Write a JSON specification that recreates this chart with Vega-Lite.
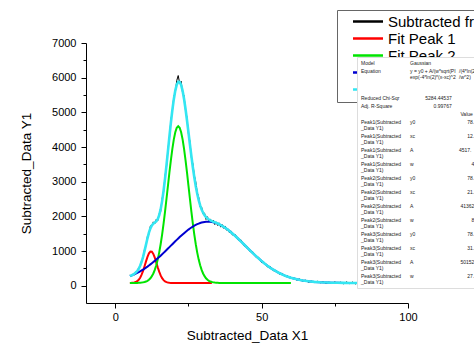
{
  "$schema": "https://vega.github.io/schema/vega-lite/v6.json",
  "width": 322,
  "height": 260,
  "autosize": {"type": "none"},
  "padding": {"left": 86, "top": 43, "right": 66, "bottom": 60},
  "background": "white",
  "config": {
    "view": {"stroke": null},
    "font": "Liberation Sans",
    "style": {"guide-label": {"lineHeight": 6.4}}
  },
  "data": {"values": [
    {"x":5,"d":311,"p1":79,"p2":78,"p3":275,"c":276},
    {"x":5.5,"d":274,"p1":81,"p2":78,"p3":291,"c":294},
    {"x":6,"d":330,"p1":84,"p2":78,"p3":309,"c":315},
    {"x":6.5,"d":312,"p1":91,"p2":79,"p3":328,"c":342},
    {"x":7,"d":401,"p1":104,"p2":79,"p3":348,"c":376},
    {"x":7.5,"d":407,"p1":128,"p2":80,"p3":369,"c":422},
    {"x":8,"d":525,"p1":168,"p2":82,"p3":391,"c":485},
    {"x":8.5,"d":548,"p1":229,"p2":84,"p3":415,"c":573},
    {"x":9,"d":718,"p1":316,"p2":89,"p3":440,"c":688},
    {"x":9.5,"d":787,"p1":428,"p2":95,"p3":465,"c":832},
    {"x":10,"d":1057,"p1":561,"p2":105,"p3":493,"c":1002},
    {"x":10.5,"d":1155,"p1":701,"p2":119,"p3":521,"c":1185},
    {"x":11,"d":1426,"p1":832,"p2":141,"p3":550,"c":1366},
    {"x":11.5,"d":1488,"p1":931,"p2":171,"p3":581,"c":1528},
    {"x":12,"d":1724,"p1":983,"p2":214,"p3":613,"c":1654},
    {"x":12.5,"d":1720,"p1":977,"p2":273,"p3":646,"c":1740},
    {"x":13,"d":1840,"p1":915,"p2":351,"p3":680,"c":1790},
    {"x":13.5,"d":1786,"p1":807,"p2":455,"p3":715,"c":1821},
    {"x":14,"d":1916,"p1":673,"p2":587,"p3":752,"c":1856},
    {"x":14.5,"d":1868,"p1":533,"p2":752,"p3":789,"c":1918},
    {"x":15,"d":2074,"p1":404,"p2":954,"p3":827,"c":2029},
    {"x":15.5,"d":2141,"p1":296,"p2":1195,"p3":866,"c":2201},
    {"x":16,"d":2509,"p1":215,"p2":1474,"p3":905,"c":2439},
    {"x":16.5,"d":2699,"p1":159,"p2":1790,"p3":946,"c":2739},
    {"x":17,"d":3170,"p1":123,"p2":2137,"p3":987,"c":3090},
    {"x":17.5,"d":3425,"p1":101,"p2":2507,"p3":1028,"c":3480},
    {"x":18,"d":3955,"p1":89,"p2":2887,"p3":1070,"c":3890},
    {"x":18.5,"d":4233,"p1":83,"p2":3265,"p3":1112,"c":4303},
    {"x":19,"d":4792,"p1":80,"p2":3624,"p3":1154,"c":4702},
    {"x":19.5,"d":5017,"p1":79,"p2":3948,"p3":1196,"c":5067},
    {"x":20,"d":5465,"p1":78,"p2":4220,"p3":1238,"c":5380},
    {"x":20.5,"d":5567,"p1":78,"p2":4426,"p3":1279,"c":5627},
    {"x":21,"d":5917,"p1":78,"p2":4554,"p3":1321,"c":5797},
    {"x":21.5,"d":6061,"p1":78,"p2":4598,"p3":1361,"c":5881},
    {"x":22,"d":5837,"p1":78,"p2":4554,"p3":1401,"c":5877},
    {"x":22.5,"d":5898,"p1":78,"p2":4426,"p3":1440,"c":5788},
    {"x":23,"d":5550,"p1":78,"p2":4220,"p3":1478,"c":5620},
    {"x":23.5,"d":5480,"p1":78,"p2":3948,"p3":1515,"c":5385},
    {"x":24,"d":5047,"p1":78,"p2":3624,"p3":1551,"c":5097},
    {"x":24.5,"d":4852,"p1":78,"p2":3265,"p3":1585,"c":4772},
    {"x":25,"d":4366,"p1":78,"p2":2887,"p3":1618,"c":4426},
    {"x":25.5,"d":4167,"p1":78,"p2":2507,"p3":1649,"c":4077},
    {"x":26,"d":3697,"p1":78,"p2":2137,"p3":1678,"c":3737},
    {"x":26.5,"d":3517,"p1":78,"p2":1790,"p3":1705,"c":3417},
    {"x":27,"d":3186,"p1":78,"p2":1474,"p3":1730,"c":3126},
    {"x":27.5,"d":2989,"p1":78,"p2":1195,"p3":1753,"c":2869},
    {"x":28,"d":2689,"p1":78,"p2":954,"p3":1773,"c":2649},
    {"x":28.5,"d":2555,"p1":78,"p2":752,"p3":1791,"c":2465},
    {"x":29,"d":2266,"p1":78,"p2":587,"p3":1807,"c":2316},
    {"x":29.5,"d":2266,"p1":78,"p2":455,"p3":1820,"c":2196},
    {"x":30,"d":2064,"p1":78,"p2":351,"p3":1830,"c":2104},
    {"x":30.5,"d":2093,"p1":78,"p2":273,"p3":1838,"c":2033},
    {"x":31,"d":1909,"p1":78,"p2":214,"p3":1843,"c":1979},
    {"x":31.5,"d":1989,"p1":78,"p2":171,"p3":1846,"c":1939},
    {"x":32,"d":1848,"p1":78,"p2":141,"p3":1846,"c":1908},
    {"x":32.5,"d":1924,"p1":78,"p2":119,"p3":1843,"c":1884},
    {"x":33,"d":1813,"p1":78,"p2":105,"p3":1837,"c":1863},
    {"x":33.5,"d":1890,"p2":95,"p3":1828,"c":1845},
    {"x":34,"d":1763,"p2":89,"p3":1817,"c":1828},
    {"x":34.5,"d":1840,"p2":84,"p3":1804,"c":1810},
    {"x":35,"d":1737,"p2":82,"p3":1788,"c":1792},
    {"x":35.5,"d":1811,"p2":80,"p3":1769,"c":1771},
    {"x":36,"d":1689,"p2":79,"p3":1748,"c":1749},
    {"x":36.5,"d":1761,"p2":79,"p3":1725,"c":1726},
    {"x":37,"d":1655,"p2":78,"p3":1699,"c":1700},
    {"x":37.5,"d":1722,"p2":78,"p3":1672,"c":1672},
    {"x":38,"d":1603,"p2":78,"p3":1643,"c":1643},
    {"x":38.5,"d":1641,"p2":78,"p3":1611,"c":1611},
    {"x":39,"d":1528,"p2":78,"p3":1578,"c":1578},
    {"x":39.5,"d":1579,"p2":78,"p3":1544,"c":1544},
    {"x":40,"d":1463,"p2":78,"p3":1508,"c":1508},
    {"x":41,"d":1473,"p2":78,"p3":1433,"c":1433},
    {"x":42,"d":1318,"p2":78,"p3":1353,"c":1353},
    {"x":43,"d":1316,"p2":78,"p3":1271,"c":1271},
    {"x":44,"d":1147,"p2":78,"p3":1187,"c":1187},
    {"x":45,"d":1133,"p2":78,"p3":1103,"c":1103},
    {"x":46,"d":985,"p2":78,"p3":1020,"c":1020},
    {"x":47,"d":978,"p2":78,"p3":938,"c":938},
    {"x":48,"d":828,"p2":78,"p3":858,"c":858},
    {"x":49,"d":816,"p2":78,"p3":781,"c":781},
    {"x":50,"d":668,"p2":78,"p3":708,"c":708},
    {"x":51,"d":669,"p2":78,"p3":639,"c":639},
    {"x":52,"d":540,"p2":78,"p3":575,"c":575},
    {"x":53,"d":550,"p2":78,"p3":515,"c":515},
    {"x":54,"d":430,"p2":78,"p3":460,"c":460},
    {"x":55,"d":435,"p2":78,"p3":410,"c":410},
    {"x":56,"d":335,"p2":78,"p3":365,"c":365},
    {"x":57,"d":354,"p2":78,"p3":324,"c":324},
    {"x":58,"d":263,"p2":78,"p3":288,"c":288},
    {"x":59,"d":276,"p2":78,"p3":256,"c":256},
    {"x":60,"d":203,"p2":78,"p3":228,"c":228},
    {"x":61,"d":223},
    {"x":62,"d":163,"p3":183,"c":183},
    {"x":63,"d":190},
    {"x":64,"d":134,"p3":149,"c":149},
    {"x":65,"d":156},
    {"x":66,"d":100,"p3":125,"c":125},
    {"x":67,"d":131},
    {"x":68,"d":89,"p3":109,"c":109},
    {"x":69,"d":128},
    {"x":70,"d":82,"p3":97,"c":97},
    {"x":71,"d":113},
    {"x":72,"d":65,"p3":90,"c":90},
    {"x":73,"d":102},
    {"x":74,"d":65,"p3":85,"c":85},
    {"x":75,"d":108},
    {"x":76,"d":67,"p3":82,"c":82},
    {"x":77,"d":101},
    {"x":78,"d":55,"p3":80,"c":80},
    {"x":79,"d":110},
    {"x":80,"d":59,"p3":79,"c":79},
    {"x":81,"d":104},
    {"x":82,"d":49,"p3":79,"c":79},
    {"x":83,"d":99},
    {"x":84,"d":53,"p3":78,"c":78},
    {"x":85,"d":108},
    {"x":86,"d":58,"p3":78,"c":78},
    {"x":87,"d":103},
    {"x":88,"d":48,"p3":78,"c":78},
    {"x":89,"d":98},
    {"x":90,"d":68,"p3":78,"c":78}
  ]},
  "layer": [
    {
      "mark": {"type": "line", "strokeWidth": 1, "invalid": "filter"},
      "encoding": {
        "x": {"field": "x", "type": "quantitative",
          "scale": {"domain": [-10, 100], "nice": false, "zero": false},
          "axis": {
            "title": "Subtracted_Data X1",
            "values": [0, 25, 50, 75, 100],
            "tickCount": 20,
            "labelExpr": "datum.value % 50 === 0 ? datum.label : ''",
            "tickSize": {"condition": {"test": "datum.value % 50 === 0", "value": 5}, "value": 3},
            "grid": false, "labelFlush": false, "labelOverlap": false,
            "domainColor": "black", "tickColor": "black", "labelColor": "black",
            "labelFont": "Liberation Sans", "labelFontSize": 11, "labelPadding": 3,
            "titleFont": "Liberation Sans", "titleFontSize": 13.5, "titleFontWeight": "normal",
            "titleColor": "black", "titlePadding": 6
          }
        },
        "y": {"field": "d", "type": "quantitative",
          "scale": {"domain": [-500, 7000], "nice": false, "zero": false},
          "axis": {
            "title": "Subtracted_Data Y1",
            "values": [0, 500, 1000, 1500, 2000, 2500, 3000, 3500, 4000, 4500, 5000, 5500, 6000, 6500, 7000],
            "tickCount": 30,
            "labelExpr": "datum.value % 1000 === 0 ? datum.label : ''",
            "format": "d",
            "tickSize": {"condition": {"test": "datum.value % 1000 === 0", "value": 5}, "value": 3},
            "grid": false, "labelFlush": false, "labelOverlap": false,
            "domainColor": "black", "tickColor": "black", "labelColor": "black",
            "labelFont": "Liberation Sans", "labelFontSize": 11, "labelPadding": 5,
            "titleFont": "Liberation Sans", "titleFontSize": 13.5, "titleFontWeight": "normal",
            "titleColor": "black", "titlePadding": 18
          }
        },
        "color": {"datum": "Subtracted from Data Y1", "type": "nominal",
          "scale": {
            "domain": ["Subtracted from Data Y1", "Fit Peak 1", "Fit Peak 2", "Fit Peak 3", "Cumulative Fit Peak"],
            "range": ["#000000", "#ff0000", "#00e400", "#0000d0", "#33e6f2"]
          },
          "legend": {
            "orient": "none", "legendX": 251, "legendY": -33, "title": null,
            "fillColor": "white", "strokeColor": "#666666", "padding": 4,
            "labelFont": "Liberation Sans", "labelFontSize": 15, "labelColor": "black", "labelLimit": 400,
            "symbolType": "M-3,0H3", "symbolSize": 100, "symbolStrokeWidth": 2.5,
            "symbolOffset": 19.5, "labelOffset": 12.5, "rowPadding": 1, "zindex": 0
          }
        }
      }
    },
    {
      "mark": {"type": "line", "strokeWidth": 2, "invalid": "filter"},
      "encoding": {
        "x": {"field": "x", "type": "quantitative"},
        "y": {"field": "p1", "type": "quantitative"},
        "color": {"datum": "Fit Peak 1", "type": "nominal"}
      }
    },
    {
      "mark": {"type": "line", "strokeWidth": 2, "invalid": "filter"},
      "encoding": {
        "x": {"field": "x", "type": "quantitative"},
        "y": {"field": "p2", "type": "quantitative"},
        "color": {"datum": "Fit Peak 2", "type": "nominal"}
      }
    },
    {
      "mark": {"type": "line", "strokeWidth": 2, "invalid": "filter"},
      "encoding": {
        "x": {"field": "x", "type": "quantitative"},
        "y": {"field": "p3", "type": "quantitative"},
        "color": {"datum": "Fit Peak 3", "type": "nominal"}
      }
    },
    {
      "mark": {"type": "line", "strokeWidth": 2.6, "invalid": "filter"},
      "encoding": {
        "x": {"field": "x", "type": "quantitative"},
        "y": {"field": "c", "type": "quantitative"},
        "color": {"datum": "Cumulative Fit Peak", "type": "nominal"}
      }
    },
    {
      "data": {"values": [
        {"k": "01|Model\u00a0\u00a0\u00a0\u00a0\u00a0\u00a0\u00a0\u00a0\u00a0\u00a0\u00a0\u00a0\u00a0\u00a0\u00a0\u00a0\u00a0\u00a0\u00a0\u00a0\u00a0\u00a0\u00a0\u200b"},
        {"k": "02|Equation~~~"},
        {"k": "03|Reduced Chi-Sqr"},
        {"k": "04|Adj. R-Square"},
        {"k": "05|"},
        {"k": "06|Peak1(Subtracted~_Data Y1)"},
        {"k": "07|Peak1(Subtracted~_Data Y1)"},
        {"k": "08|Peak1(Subtracted~_Data Y1)"},
        {"k": "09|Peak1(Subtracted~_Data Y1)"},
        {"k": "10|Peak2(Subtracted~_Data Y1)"},
        {"k": "11|Peak2(Subtracted~_Data Y1)"},
        {"k": "12|Peak2(Subtracted~_Data Y1)"},
        {"k": "13|Peak2(Subtracted~_Data Y1)"},
        {"k": "14|Peak3(Subtracted~_Data Y1)"},
        {"k": "15|Peak3(Subtracted~_Data Y1)"},
        {"k": "16|Peak3(Subtracted~_Data Y1)"},
        {"k": "17|Peak3(Subtracted~_Data Y1)"},
        {"k": "18|Gaussian"},
        {"k": "19|y = y0 + A/(w*sqrt(PI~exp(-4*ln(2)*(x-xc)^2~~"},
        {"k": "20|\u200b\u00a0\u00a0\u00a0\u00a0\u00a0\u00a0\u00a0\u00a0\u00a0\u00a0\u00a05284.44537"},
        {"k": "21|\u200b\u00a0\u00a0\u00a0\u00a0\u00a0\u00a0\u00a0\u00a0\u00a0\u00a0\u00a0\u00a0\u00a0\u00a0\u00a0\u00a0\u00a00.99767"},
        {"k": "22|"},
        {"k": "23|y0"},
        {"k": "24|xc"},
        {"k": "25|A"},
        {"k": "26|w"},
        {"k": "27|y0"},
        {"k": "28|xc"},
        {"k": "29|A"},
        {"k": "30|w"},
        {"k": "31|y0"},
        {"k": "32|xc"},
        {"k": "33|A"},
        {"k": "34|w"},
        {"k": "35|"},
        {"k": "36|/(4*ln(2)))) *~/w^2)~~"},
        {"k": "37|"},
        {"k": "38|"},
        {"k": "39|\u200b\u00a0Value"},
        {"k": "40|\u200b\u00a0\u00a0\u00a0\u00a0\u00a0\u00a078."},
        {"k": "41|\u200b\u00a0\u00a0\u00a0\u00a0\u00a0\u00a012."},
        {"k": "42|4517."},
        {"k": "43|\u200b\u00a0\u00a0\u00a0\u00a0\u00a0\u00a0\u00a0\u00a0\u00a04."},
        {"k": "44|\u200b\u00a0\u00a0\u00a0\u00a0\u00a0\u00a078."},
        {"k": "45|\u200b\u00a0\u00a0\u00a0\u00a0\u00a0\u00a021."},
        {"k": "46|\u200b\u00a041362"},
        {"k": "47|\u200b\u00a0\u00a0\u00a0\u00a0\u00a0\u00a0\u00a0\u00a0\u00a08."},
        {"k": "48|\u200b\u00a0\u00a0\u00a0\u00a0\u00a0\u00a078."},
        {"k": "49|\u200b\u00a0\u00a0\u00a0\u00a0\u00a0\u00a031."},
        {"k": "50|\u200b\u00a050152"},
        {"k": "51|\u200b\u00a0\u00a0\u00a0\u00a0\u00a0\u00a027."}
      ]},
      "mark": {"type": "point", "opacity": 0},
      "encoding": {
        "shape": {"field": "k", "type": "nominal",
          "legend": {
            "orient": "none", "legendX": 271, "legendY": 14, "title": null,
            "columns": 3, "gridAlign": "each", "columnPadding": 2, "rowPadding": 2,
            "padding": 3, "fillColor": "white", "strokeColor": "#dddddd",
            "labelFont": "Liberation Sans", "labelFontSize": 5, "labelColor": "#222222",
            "labelLimit": 1000, "labelOffset": -4,
            "symbolSize": 1, "symbolOpacity": 0, "symbolStrokeWidth": 0, "symbolOffset": 0,
            "symbolLimit": 100,
            "labelExpr": "split(split(datum.label, '|')[1], '~')",
            "zindex": 1
          }
        }
      }
    }
  ]
}
